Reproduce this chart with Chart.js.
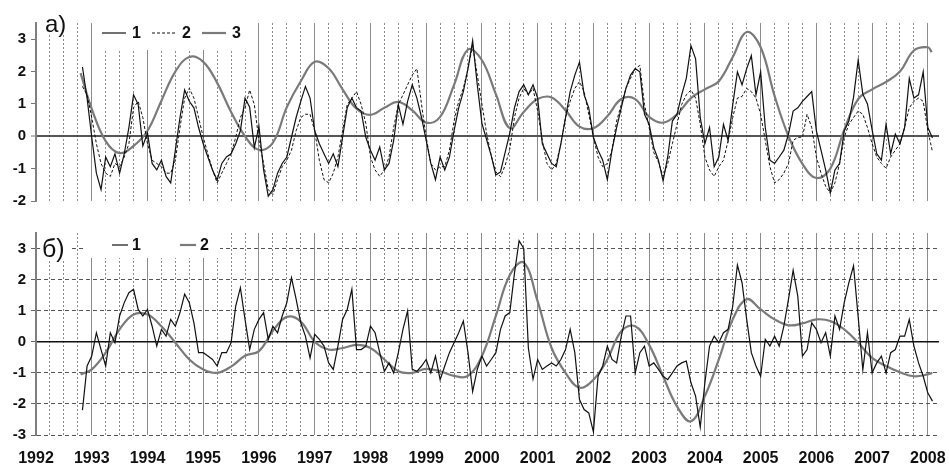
<!DOCTYPE html>
<html>
<head>
<meta charset="utf-8">
<script src="https://cdn.jsdelivr.net/npm/chart.js@4.4.1/dist/chart.umd.min.js"></script>
<style>
    html, body { margin: 0; padding: 0; background: #fff; }
    #wrapA { position: absolute; left: 0; top: 0; width: 949px; height: 215px; }
    #wrapB { position: absolute; left: 0; top: 215px; width: 949px; height: 251px; }
</style>
</head>
<body>
<div id="wrapA"><canvas id="chartA"></canvas></div>
<div id="wrapB"><canvas id="chartB"></canvas></div>
<script>
// Monthly series start in Nov 1992 and end in Feb 2008
const startYear = 1992;
const startMonth = 10; // 0-based, November
const monthCount = 184;

// Panel a) - series 1 (solid)
const topSeries1 = [
    2.14, 1.18,
    -0.03, -1.14, -1.65, -0.64, -0.94, -0.54, -1.14, -0.54, 0.27, 1.28, 0.98, -0.3,
    0.1, -0.84, -1.04, -0.74, -1.24, -1.44, -0.43, 0.58, 1.43, 1.08, 0.88, 0.27,
    -0.23, -0.64, -1.04, -1.35, -0.84, -0.64, -0.54, -0.23, 0.17, 1.18, 0.9, -0.35,
    0.3, -1.04, -1.85, -1.65, -1.14, -0.84, -0.64, -0.03, 0.58, 1.08, 1.54, 1.18,
    0.17, -0.23, -0.54, -0.84, -0.54, -0.94, -0.03, 0.88, 1.18, 0.88, 0.78, -0.03,
    -0.43, -0.74, -0.33, -1.04, -0.84, -0.13, 0.98, 0.37, 1.08, 1.59, 1.18, 0.58,
    -0.13, -0.84, -1.34, -0.64, -1.04, -0.64, 0.17, 0.88, 1.38, 2.09, 2.95, 1.59,
    0.4, -0.1, -0.6, -1.2, -1.1, -0.5, 0.1, 0.88, 1.38, 1.59, 1.28, 1.59,
    1.18, -0.23, -0.54, -0.84, -0.94, -0.23, 0.58, 1.38, 1.89, 2.29, 1.28, 0.88,
    -0.03, -0.43, -0.74, -1.34, -0.43, 0.27, 0.88, 1.48, 1.89, 2.09, 1.99, 0.68,
    0.37, -0.35, -0.74, -1.38, -0.64, 0.47, 0.68, 1.28, 1.79, 2.8, 2.39, 0.58,
    -0.23, 0.27, -0.94, -0.64, 0.37, -0.13, 0.98, 1.99, 1.59, 2.09, 2.49, 1.28,
    1.99, 0.27, -0.74, -0.84, -0.64, -0.43, 0.07, 0.78, 0.88, 1.08, 1.23, 1.38,
    0.17, -0.43, -1.04, -1.75, -1.04, -0.84, 0.17, 0.47, 1.2, 2.35, 1.3, 1.0,
    0.2, -0.54, -0.74, 0.37, -0.54, 0.07, -0.23, 0.27, 1.79, 1.18, 1.28, 1.99,
    0.27, -0.05
];

// Panel a) - series 2 (dotted)
const topSeries2 = [
    1.54, 1.28,
    0.58, -0.23, -0.84, -1.14, -1.24, -0.84, -0.94, -0.64, -0.23, 0.88, 1.08, 0.58,
    -0.23, -0.74, -0.84, -0.94, -1.14, -1.14, -0.74, 0.27, 1.18, 1.48, 1.18, 0.58,
    -0.03, -0.54, -1.04, -1.44, -1.14, -0.84, -0.54, -0.03, 0.58, 0.88, 1.43, 0.98,
    -0.13, -0.84, -1.65, -1.8, -1.34, -0.94, -0.74, -0.43, 0.17, 0.58, 0.68, 0.68,
    0.17, -0.74, -1.34, -1.44, -1.14, -0.64, 0.17, 0.98, 1.18, 1.38, 0.98, 0.4,
    -0.64, -1.04, -1.24, -1.04, -0.64, 0.27, 0.98, 1.28, 1.59, 1.89, 2.09, 0.98,
    -0.03, -0.84, -1.04, -0.94, -0.94, -0.43, 0.47, 1.08, 1.48, 2.09, 2.8, 1.89,
    1.0, 0.1, -0.6, -1.1, -1.25, -0.9, -0.4, 0.58, 1.18, 1.48, 1.28, 1.48,
    0.78, -0.13, -0.84, -1.04, -0.84, -0.23, 0.58, 1.08, 1.48, 1.69, 1.38, 0.68,
    -0.03, -0.64, -0.94, -0.84, -0.43, 0.47, 0.98, 1.48, 1.79, 2.09, 2.19, 0.98,
    0.27, -0.5, -0.8, -1.24, -0.84, -0.23, 0.37, 0.98, 1.28, 1.43, 1.18, 0.37,
    -0.64, -1.04, -1.24, -0.94, -0.74, -0.13, 0.58, 1.18, 1.23, 1.48, 1.38, 1.18,
    0.68, -0.13, -0.94, -1.44, -1.34, -1.14, -0.84, -0.13, -0.03, -0.03, 0.68, 0.27,
    -0.64, -1.14, -1.55, -1.75, -1.44, -0.84, -0.03, 0.37, 0.58, 0.78, 0.68, 0.27,
    -0.23, -0.64, -0.84, -0.99, -0.64, -0.43, -0.23, 0.27, 0.88, 1.08, 1.18, 1.08,
    0.17, -0.48
];

// Panel a) - series 3 (smooth, grey)
const topSmoothTimes = [
    1992.8, 1993, 1993.25, 1993.5, 1993.75, 1994, 1994.25, 1994.5, 1994.75,
    1995, 1995.25, 1995.5, 1995.75, 1996, 1996.25, 1996.5, 1996.75,
    1997, 1997.25, 1997.5, 1997.75, 1998, 1998.25, 1998.5, 1998.75,
    1999, 1999.25, 1999.5, 1999.75, 2000, 2000.25, 2000.5, 2000.75,
    2001, 2001.25, 2001.5, 2001.75, 2002, 2002.25, 2002.5, 2002.75,
    2003, 2003.25, 2003.5, 2003.75, 2004, 2004.25, 2004.5, 2004.75,
    2005, 2005.25, 2005.5, 2005.75, 2006, 2006.25, 2006.5, 2006.75,
    2007, 2007.25, 2007.5, 2007.75, 2008, 2008.07
];
const topSmooth = [
    1.95, 0.85, -0.15, -0.52, -0.3, 0.17, 1.1, 2.0, 2.45,
    2.3, 1.65, 0.75, 0.0, -0.42, -0.2, 0.9, 1.7,
    2.3, 2.1, 1.45, 0.85, 0.66, 0.88, 1.06, 0.8,
    0.42, 0.6, 1.59, 2.68, 2.35, 1.3, 0.25, 0.75,
    1.15, 1.2, 0.8, 0.3, 0.25, 0.62, 1.15, 1.15,
    0.6, 0.42, 0.68, 1.18, 1.45, 1.7, 2.45, 3.22,
    2.75, 1.25, 0.0, -0.85, -1.29, -1.0, 0.2, 1.15,
    1.45, 1.68, 2.0, 2.65, 2.75, 2.6
];

// Panel б) - series 1 (solid)
const bottomSeries1 = [
    -2.2, -0.78,
    -0.46, 0.29, -0.25, -0.78, 0.29, -0.03, 0.83, 1.26, 1.58, 1.69, 1.04, 0.83,
    1.04, 0.5, -0.14, 0.4, 0.18, 0.72, 0.5, 0.94, 1.53, 1.26, 0.61, -0.35,
    -0.35, -0.46, -0.57, -0.78, -0.35, -0.35, -0.03, 1.15, 1.74, 0.72, -0.25, 0.4,
    0.72, 0.94, 0.08, 0.5, 0.29, 0.83, 1.26, 2.06, 1.37, 0.61, 0.18, -0.52,
    0.24, 0.08, -0.14, -0.68, -0.89, -0.14, 0.72, 1.04, 1.69, -0.25, -0.25, -0.14,
    0.5, 0.29, -0.35, -0.95, -0.68, -1.0, -0.35, 0.4, 0.99, -0.89, -0.95, -0.78,
    -0.57, -1.0, -0.46, -1.22, -0.78, -0.35, -0.03, 0.29, 0.67, -0.35, -1.6, -0.89,
    -0.46, -0.78, -0.57, -0.35, 0.4, 0.83, 0.94, 2.2, 3.25, 3.0, -0.2, -1.2,
    -0.57, -0.89, -0.78, -0.68, -0.78, -0.57, -0.25, 0.4, -0.35, -1.86, -2.18, -2.29,
    -2.9, -1.11, -0.78, -0.14, -0.57, -0.68, 0.18, 0.83, 0.83, -1.0, -0.35, -0.14,
    -0.78, -0.68, -0.89, -1.11, -1.22, -1.0, -0.78, -0.68, -0.62, -1.32, -1.75, -2.75,
    -1.32, -0.14, 0.18, -0.03, 0.29, 0.4, 1.15, 2.47, 1.9, 0.72, -0.35, -0.78,
    -1.11, 0.08, -0.14, 0.18, -0.14, 0.5, 1.37, 2.3, 1.47, -0.46, -0.25, 0.61,
    0.4, -0.03, 0.29, -0.46, 0.83, 0.4, 1.26, 1.9, 2.44, 0.8, -0.9, 0.3,
    -1.0, -0.68, -0.46, -1.0, -0.35, -0.25, 0.18, 0.18, 0.72, -0.14, -0.68, -1.11,
    -1.65, -1.91
];

// Panel б) - series 2 (smooth, grey)
const bottomSmoothTimes = [
    1992.8, 1993, 1993.25, 1993.5, 1993.75, 1994, 1994.25, 1994.5, 1994.75,
    1995, 1995.25, 1995.5, 1995.75, 1996, 1996.25, 1996.5, 1996.75,
    1997, 1997.25, 1997.5, 1997.75, 1998, 1998.25, 1998.5, 1998.75,
    1999, 1999.25, 1999.5, 1999.75, 2000, 2000.25, 2000.5, 2000.75,
    2001, 2001.25, 2001.5, 2001.75, 2002, 2002.25, 2002.5, 2002.75,
    2003, 2003.25, 2003.5, 2003.75, 2004, 2004.25, 2004.5, 2004.75,
    2005, 2005.25, 2005.5, 2005.75, 2006, 2006.25, 2006.5, 2006.75,
    2007, 2007.25, 2007.5, 2007.75, 2008, 2008.08
];
const bottomSmooth = [
    -1.05, -0.89, -0.35, 0.4, 0.88, 0.88, 0.5, -0.03, -0.57,
    -0.89, -1.0, -0.8, -0.45, -0.3, 0.35, 0.8, 0.65,
    0.0, -0.25, -0.2, -0.1, -0.2, -0.57, -0.95, -1.0,
    -0.87, -0.95, -1.1, -1.1, -0.46, 0.83, 2.15, 2.55,
    1.3, -0.2, -1.0, -1.48, -1.22, -0.57, 0.34, 0.5,
    -0.1, -1.11, -2.08, -2.56, -1.75, -0.57, 0.72, 1.37,
    1.04, 0.72, 0.53, 0.59, 0.72, 0.67, 0.4, -0.03,
    -0.52, -0.78, -0.98, -1.11, -1.05, -1.0
];

const yearTicks = { min: 1992, max: 2008.2 };

const monthTimes = [];
for (let i = 0; i < monthCount; i++) {
    monthTimes.push(startYear + (startMonth + i) / 12);
}
const toPoints = (times, values) => values.map((v, i) => ({ x: times[i], y: v }));

Chart.defaults.font.family = '"Liberation Sans", Arial, sans-serif';
Chart.defaults.color = '#111';

// white boxes, panel letter and legend
const panelLabels = {
    id: 'panelLabels',
    beforeDatasetsDraw(chart, args, opts) {
        const ctx = chart.ctx;
        ctx.save();
        ctx.fillStyle = '#fff';
        opts.boxes.forEach(b => ctx.fillRect(b[0], b[1], b[2], b[3]));

        ctx.fillStyle = '#111';
        ctx.font = opts.letterFont;
        ctx.textBaseline = 'alphabetic';
        ctx.fillText(opts.letter, opts.letterX, opts.letterY);

        ctx.font = 'bold 16px "Liberation Sans", Arial, sans-serif';
        ctx.textBaseline = 'middle';
        chart.data.datasets.forEach((ds, i) => {
            const x0 = opts.legendX + i * opts.legendStep;
            ctx.strokeStyle = ds.borderColor;
            ctx.lineWidth = ds.borderWidth;
            ctx.setLineDash(ds.borderDash || []);
            ctx.beginPath();
            ctx.moveTo(x0, opts.legendY);
            ctx.lineTo(x0 + opts.lineLen, opts.legendY);
            ctx.stroke();
            ctx.setLineDash([]);
            ctx.fillStyle = '#111';
            ctx.fillText(ds.label, x0 + opts.lineLen + opts.textGap, opts.legendY + 1);
        });
        ctx.restore();
    }
};

const tickFont = { size: 15, weight: 'bold' };

function xAxes(showLabels, height) {
    return {
        x: {
            type: 'linear', position: 'bottom',
            min: yearTicks.min, max: yearTicks.max,
            ticks: {
                display: showLabels, stepSize: 1, includeBounds: false,
                autoSkip: false, maxRotation: 0, padding: 14,
                font: { size: 16, weight: 'bold' }, color: '#111',
                callback: v => String(v)
            },
            grid: { color: '#8c8c8c', lineWidth: 1, drawTicks: false },
            border: { display: false },
            afterFit: s => { s.height = height; s.paddingLeft = 0; s.paddingRight = 0; }
        },
        xq: {
            type: 'linear', position: 'bottom',
            min: yearTicks.min, max: yearTicks.max,
            ticks: { display: false, stepSize: 0.25, includeBounds: false },
            grid: { color: '#8c8c8c', lineWidth: 1, drawTicks: false },
            border: { display: false, dash: [2, 2] },
            afterFit: s => { s.height = 0; s.paddingLeft = 0; s.paddingRight = 0; }
        }
    };
}

// Panel a)
new Chart(document.getElementById('chartA').getContext('2d'), {
    type: 'line',
    data: {
        datasets: [
            {
                label: '1',
                data: toPoints(monthTimes, topSeries1),
                borderColor: '#111', borderWidth: 1.2,
                pointRadius: 0, tension: 0
            },
            {
                label: '2',
                data: toPoints(monthTimes, topSeries2),
                borderColor: '#111', borderWidth: 1, borderDash: [3, 2],
                pointRadius: 0, tension: 0
            },
            {
                label: '3',
                data: toPoints(topSmoothTimes, topSmooth),
                borderColor: '#7a7a7a', borderWidth: 2.2,
                pointRadius: 0, tension: 0.4
            }
        ]
    },
    options: {
        responsive: true,
        maintainAspectRatio: false,
        animation: false,
        layout: { padding: { top: 23, right: 10, left: 0, bottom: 0 } },
        plugins: {
            legend: { display: false },
            tooltip: { enabled: false },
            panelLabels: {
                boxes: [[98, 23, 156, 27], [43, 23, 28, 11]],
                letter: 'а)', letterFont: '24px "Liberation Sans", Arial, sans-serif',
                letterX: 45, letterY: 32,
                legendX: 102, legendY: 33, legendStep: 50, lineLen: 24, textGap: 6
            }
        },
        scales: {
            ...xAxes(false, 10),
            y: {
                position: 'left',
                min: -2, max: 3.5,
                ticks: { stepSize: 1, includeBounds: false, padding: 5, font: tickFont, color: '#111' },
                grid: {
                    color: ctx => (ctx.tick && ctx.tick.value === 0) ? '#555' : 'rgba(0,0,0,0)',
                    lineWidth: ctx => (ctx.tick && ctx.tick.value === 0) ? 2 : 1,
                    tickColor: '#777', tickWidth: 1, tickLength: 5
                },
                border: { color: '#808080', width: 2 },
                afterFit: s => { s.width = 36; }
            }
        }
    },
    plugins: [panelLabels]
});

// Panel б)
new Chart(document.getElementById('chartB').getContext('2d'), {
    type: 'line',
    data: {
        datasets: [
            {
                label: '1',
                data: toPoints(monthTimes, bottomSeries1),
                borderColor: '#111', borderWidth: 1.2,
                pointRadius: 0, tension: 0
            },
            {
                label: '2',
                data: toPoints(bottomSmoothTimes, bottomSmooth),
                borderColor: '#7a7a7a', borderWidth: 2.2,
                pointRadius: 0, tension: 0.4
            }
        ]
    },
    options: {
        responsive: true,
        maintainAspectRatio: false,
        animation: false,
        layout: { padding: { top: 18, right: 10, left: 0, bottom: 0 } },
        plugins: {
            legend: { display: false },
            tooltip: { enabled: false },
            panelLabels: {
                boxes: [[40, 18, 30, 26], [84, 18, 136, 25]],
                letter: 'б)', letterFont: '25px "Liberation Sans", Arial, sans-serif',
                letterX: 42, letterY: 42,
                legendX: 112, legendY: 30, legendStep: 68, lineLen: 16, textGap: 4
            }
        },
        scales: {
            ...xAxes(true, 31),
            y: {
                position: 'left',
                min: -3, max: 3.5,
                ticks: { stepSize: 1, includeBounds: false, padding: 5, font: tickFont, color: '#111' },
                grid: { color: '#555', lineWidth: 1, tickColor: '#666', tickLength: 5 },
                border: { color: '#808080', width: 2, dash: [4, 3] },
                afterFit: s => { s.width = 36; }
            },
            y0: {
                position: 'left',
                min: -3, max: 3.5,
                ticks: { display: false, stepSize: 1, includeBounds: false },
                grid: {
                    color: ctx => (ctx.tick && ctx.tick.value === 0) ? '#111' : 'rgba(0,0,0,0)',
                    lineWidth: 1.5, drawTicks: false
                },
                border: { display: false },
                afterFit: s => { s.width = 0; }
            }
        }
    },
    plugins: [panelLabels]
});
</script>
</body>
</html>
